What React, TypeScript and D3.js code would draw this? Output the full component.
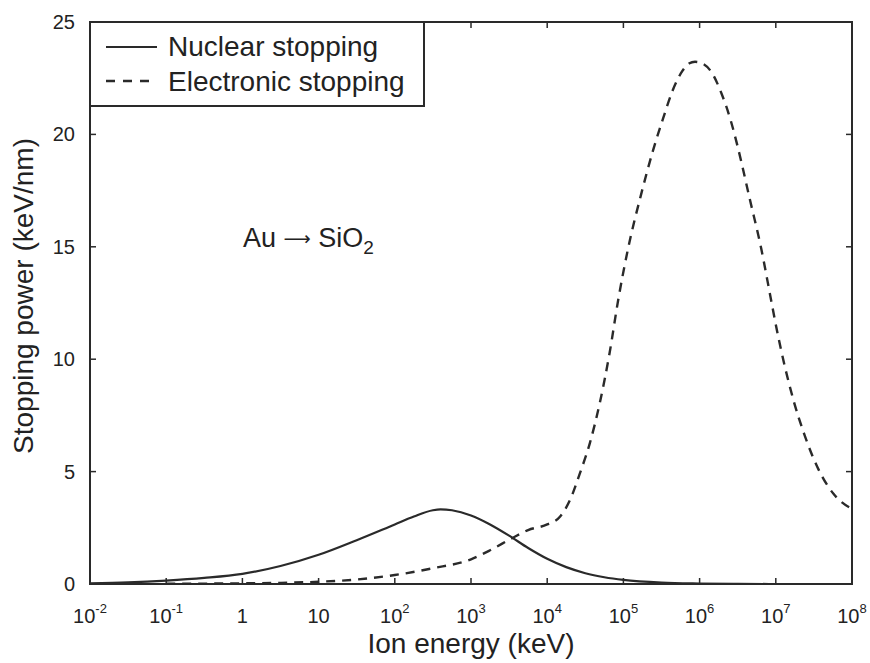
import React from "react";
import * as d3 from "d3";

// x-axis decades (log10 of ion energy in keV)
const xTickExponents = [-2, -1, 0, 1, 2, 3, 4, 5, 6, 7, 8];
const yTicks = [0, 5, 10, 15, 20, 25];

// Nuclear stopping (log10 E, keV/nm)
const nuclearLogE = [-2, -1.5, -1, -0.5, 0, 0.5, 1, 1.5, 2, 2.25, 2.5, 2.6, 2.75, 3, 3.25, 3.5, 3.75, 4, 4.25, 4.5, 4.75, 5, 5.5, 6, 6.5, 7, 8];
const nuclearValues = [0.03, 0.07, 0.15, 0.27, 0.45, 0.8, 1.3, 1.95, 2.65, 3.0, 3.28, 3.32, 3.28, 3.05, 2.65, 2.15, 1.6, 1.12, 0.75, 0.48, 0.3, 0.18, 0.06, 0.02, 0.005, 0, 0];

// Electronic stopping (log10 E, keV/nm)
const electronicLogE = [-1, 0, 0.5, 1, 1.5, 2, 2.5, 3, 3.25, 3.55, 3.75, 4, 4.17, 4.3, 4.43, 4.56, 4.69, 4.82, 4.93, 5.06, 5.23, 5.39, 5.52, 5.64, 5.77, 5.86, 5.94, 6.04, 6.15, 6.29, 6.41, 6.5, 6.66, 6.81, 6.94, 7.02, 7.11, 7.23, 7.38, 7.56, 7.76, 7.97, 8.0];
const electronicValues = [0.01, 0.03, 0.05, 0.1, 0.2, 0.4, 0.7, 1.1, 1.5, 2.06, 2.4, 2.65, 3.0, 3.74, 4.93, 6.27, 8.05, 10.3, 12.6, 14.9, 17.3, 19.3, 20.7, 21.9, 22.8, 23.15, 23.23, 23.15, 22.8, 21.8, 20.6, 19.45, 17.1, 14.9, 12.6, 11.2, 9.8, 8.2, 6.6, 5.1, 4.0, 3.4, 3.35];

const seriesLabels = ["Nuclear stopping", "Electronic stopping"];

const W = 870;
const H = 663;
const left = 90, right = 852, top = 22, bottom = 584;
const FONT = "'Liberation Sans', Arial, Helvetica, sans-serif";
const INK = "#2a2a2a";

export default function App() {
  const x = d3.scaleLog().domain([1e-2, 1e8]).range([left, right]);
  const y = d3.scaleLinear().domain([0, 25]).range([bottom, top]);

  const line = d3
    .line<[number, number]>()
    .x((d) => x(Math.pow(10, d[0])))
    .y((d) => y(d[1]))
    .curve(d3.curveMonotoneX);

  const nuclear = nuclearLogE.map((l, i) => [l, nuclearValues[i]] as [number, number]);
  const electronic = electronicLogE.map((l, i) => [l, electronicValues[i]] as [number, number]);

  const tickLen = 6;

  return (
    <div style={{ position: "absolute", left: 0, top: 0 }}>
      <svg width={W} height={H} style={{ display: "block", background: "#fff" }} fontFamily={FONT}>
        {/* curves */}
        <path d={line(nuclear) || ""} fill="none" stroke={INK} strokeWidth={2.2} />
        <path d={line(electronic) || ""} fill="none" stroke={INK} strokeWidth={2.4} strokeDasharray="9,7" />

        {/* x ticks */}
        {xTickExponents.map((e) => {
          const px = x(Math.pow(10, e));
          return (
            <g key={"xt" + e}>
              <line x1={px} x2={px} y1={bottom} y2={bottom - tickLen} stroke={INK} strokeWidth={1.5} />
              <line x1={px} x2={px} y1={top} y2={top + tickLen} stroke={INK} strokeWidth={1.5} />
              <text x={px} y={623} textAnchor="middle" fontSize={20} fill="#222">
                {e === 0 ? "1" : e === 1 ? "10" : (
                  <>
                    <tspan>10</tspan>
                    <tspan fontSize={13} dy={-10}>{String(e)}</tspan>
                  </>
                )}
              </text>
            </g>
          );
        })}

        {/* y ticks */}
        {yTicks.map((v) => {
          const py = y(v);
          return (
            <g key={"yt" + v}>
              <line x1={left} x2={left + tickLen} y1={py} y2={py} stroke={INK} strokeWidth={1.5} />
              <line x1={right} x2={right - tickLen} y1={py} y2={py} stroke={INK} strokeWidth={1.5} />
              <text x={75} y={py + 7} textAnchor="end" fontSize={20} fill="#222">
                {v}
              </text>
            </g>
          );
        })}

        {/* frame */}
        <rect x={left} y={top} width={right - left} height={bottom - top} fill="none" stroke={INK} strokeWidth={2} />

        {/* legend */}
        <rect x={left} y={top} width={334} height={84} fill="#fff" stroke={INK} strokeWidth={2} />
        <line x1={106} x2={157} y1={47} y2={47} stroke={INK} strokeWidth={2.2} />
        <text x={168} y={56} fontSize={28} fill="#222">{seriesLabels[0]}</text>
        <line x1={106} x2={157} y1={81} y2={81} stroke={INK} strokeWidth={2.4} strokeDasharray="9,8" />
        <text x={168} y={91} fontSize={28} fill="#222">{seriesLabels[1]}</text>

        {/* annotation */}
        <text x={243} y={247} fontSize={27} fill="#222">
          <tspan>Au </tspan>
          <tspan fontFamily="'DejaVu Sans', sans-serif" fontSize={19} dy={-2}>⟶</tspan>
          <tspan dy={2}> SiO</tspan>
          <tspan fontSize={19} dy={7}>2</tspan>
        </text>

        {/* axis titles */}
        <text x={(left + right) / 2} y={653} textAnchor="middle" fontSize={28} fill="#222">
          Ion energy (keV)
        </text>
        <text transform={`translate(33,296) rotate(-90)`} textAnchor="middle" fontSize={28} fill="#222">
          Stopping power (keV/nm)
        </text>
      </svg>
    </div>
  );
}
